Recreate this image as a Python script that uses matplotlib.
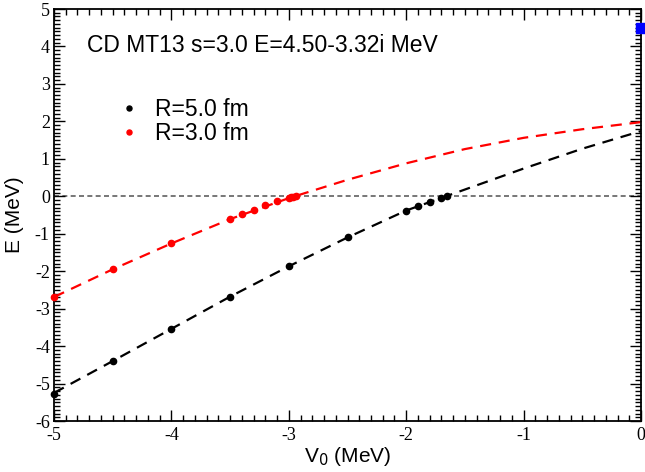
import matplotlib
matplotlib.use("Agg")
import matplotlib.pyplot as plt
from matplotlib.ticker import MultipleLocator
import numpy as np

plt.rcParams["axes.unicode_minus"] = False

# Data points
v0_r5 = [-5.0, -4.5, -4.0, -3.5, -3.0, -2.5, -2.0, -1.9, -1.8, -1.7, -1.65]
e_r5 = [-5.29, -4.41, -3.54, -2.68, -1.87, -1.10, -0.38, -0.26, -0.15, -0.04, 0.0]
v0_r3 = [-5.0, -4.5, -4.0, -3.5, -3.4, -3.3, -3.2, -3.1, -3.0, -2.98, -2.96, -2.94]
e_r3 = [-2.69, -1.95, -1.26, -0.61, -0.48, -0.36, -0.245, -0.13, -0.05, -0.03, -0.015, 0.0]

# Extrapolation curves
curve_x = [-5.0, -4.5, -4.0, -3.5, -3.0, -2.5, -2.0, -1.5, -1.0, -0.5, 0.0]
curve_r5 = [-5.25, -4.40, -3.54, -2.68, -1.87, -1.10, -0.38, 0.18, 0.74, 1.27, 1.74]
curve_r3 = [-2.69, -1.95, -1.26, -0.61, -0.05, 0.44, 0.88, 1.26, 1.56, 1.79, 1.98]

# Target resonance
target_x = [0.0]
target_e = [4.5]

xticks = [-5, -4, -3, -2, -1, 0]
yticks = [-6, -5, -4, -3, -2, -1, 0, 1, 2, 3, 4, 5]

fig = plt.figure(figsize=(6.45, 4.72), dpi=100)
ax = fig.add_axes([54/645, 51/472, 587/645, 412/472])

ax.axhline(0, color="#606060", lw=1.2, ls=(0, (3, 2)), zorder=1)
ax.plot(curve_x, curve_r5, color="black", lw=1.6, ls=(0, (5, 3.5)), zorder=2)
ax.plot(curve_x, curve_r3, color="red", lw=1.6, ls=(0, (5, 3.5)), zorder=2)
ax.plot(v0_r5, e_r5, "o", color="black", ms=4.5, label="R=5.0 fm", zorder=3, clip_on=False)
ax.plot(v0_r3, e_r3, "o", color="red", ms=4.5, label="R=3.0 fm", zorder=3, clip_on=False)
ax.plot(target_x, target_e, "s", color="blue", ms=7, clip_on=False, zorder=4)

ax.set_xlim(-5, 0)
ax.set_ylim(-6, 5)
ax.set_xticks(xticks)
ax.set_yticks(yticks)
ax.xaxis.set_minor_locator(MultipleLocator(0.1))
ax.yaxis.set_minor_locator(MultipleLocator(0.1))
ax.tick_params(which="both", direction="in", top=True, right=True, width=1)
ax.tick_params(which="major", length=8)
ax.tick_params(which="minor", length=4)
for lab in ax.get_xticklabels() + ax.get_yticklabels():
    lab.set_fontfamily("Liberation Serif")
    lab.set_fontsize(13)
ax.tick_params(axis="x", pad=4)
ax.tick_params(axis="y", pad=3)
for sp in ax.spines.values():
    sp.set_linewidth(1.3)

ax.set_xlabel("V$_0$ (MeV)", fontfamily="Liberation Sans", fontsize=15, labelpad=1)
ax.set_ylabel("E (MeV)", fontfamily="Liberation Sans", fontsize=15, labelpad=8)

ax.text(87/645, 1 - 45/472, "CD MT13 s=3.0 E=4.50-3.32i MeV", transform=fig.transFigure,
        fontfamily="Liberation Sans", fontsize=16.5, va="center", ha="left")

leg = ax.legend(loc="upper left", bbox_to_anchor=(118/645, 1 - 98/472),
                bbox_transform=fig.transFigure, frameon=False, markerscale=0.8,
                handlelength=1.0, handletextpad=0.6, labelspacing=0.05,
                borderpad=0, borderaxespad=0,
                prop={"family": "Liberation Sans", "size": 16.5})

fig.savefig("out.png", dpi=100)
